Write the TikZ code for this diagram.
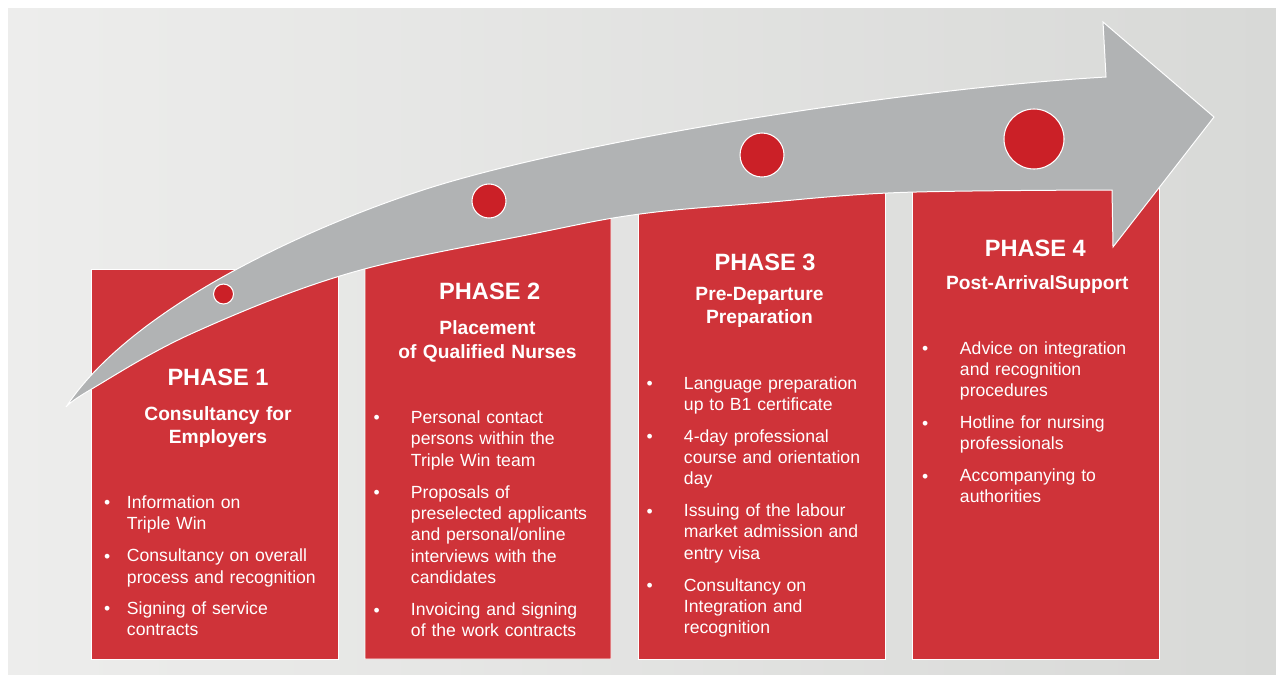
\documentclass[tikz,border=0pt]{standalone}
\usepackage{fontspec}
\setmainfont{Liberation Sans}
\definecolor{bgL}{RGB}{237,237,236}
\definecolor{bgR}{RGB}{216,217,215}
\definecolor{boxred}{RGB}{207,51,57}
\definecolor{dotred}{RGB}{203,32,39}
\definecolor{arrowgray}{RGB}{177,179,180}
\begin{document}
\begin{tikzpicture}[x=0.75pt,y=-0.75pt,
  box/.style={fill=boxred,draw=white,line width=0.6pt},
  ttl/.style={text=white,font=\fontsize{17.7}{21}\selectfont\bfseries,anchor=base,inner sep=0pt},
  sub/.style={text=white,font=\fontsize{14.4}{17.8}\selectfont\bfseries,anchor=base,inner sep=0pt,text width=180pt,align=center},
  item/.style={text=white,font=\fontsize{13.2}{16.1}\selectfont,anchor=base west,inner sep=0pt,text width=170pt,align=left},
  bul/.style={text=white,font=\fontsize{13.2}{16}\selectfont,anchor=base,inner sep=0pt},
  dot/.style={circle,fill=dotred,draw=white,line width=0.8pt,inner sep=0pt}]
\useasboundingbox (0,0) rectangle (1276,675);
\fill[white] (0,0) rectangle (1276,675);
\shade[left color=bgL,right color=bgR] (8,8) rectangle (1276,674);
% boxes
\path[box] (91,269) rectangle (338,659);
\path[box] (365,659) -- (365,240) -- (611,190) -- (611,659) -- cycle;
\path[box] (638,175) rectangle (885,659);
\path[box] (912,186) rectangle (1159,659);
% arrow
\filldraw[fill=arrowgray,draw=white,line width=0.75pt,line join=miter]
  (66,407) .. controls (130,310) and (300,230) .. (423,190)
  .. controls (573,141.4) and (900,89) .. (1106,77)
  -- (1103,22) -- (1214,117) -- (1113,247) -- (1112,190)
  -- plot[smooth,tension=0.6] coordinates {(1112,190) (900,192.5) (760,203) (640,214) (537,233) (350,273) (193,333) (90,390) (66,407)}
  -- cycle;
% dots
\node[dot,minimum size=15pt] (d1) at (223.5,294) {};
\node[dot,minimum size=25.5pt] (d2) at (489,201) {};
\node[dot,minimum size=33pt] (d3) at (762,155) {};
\node[dot,minimum size=45pt] (d4) at (1034,139) {};
% Phase 1
\node[ttl] (t1) at (218,385.7) {PHASE 1};
\node[sub] (s1) at (218,420) {Consultancy for\\Employers};
\node[bul] (b1a) at (107.3,508.8) {•};
\node[item] (i1a) at (126.7,508.3) {Information on\\Triple Win};
\node[bul] (b1b) at (107.3,562.2) {•};
\node[item] (i1b) at (126.7,561.7) {Consultancy on overall\\process and recognition};
\node[bul] (b1c) at (107.3,614.5) {•};
\node[item] (i1c) at (126.7,614) {Signing of service\\contracts};
% Phase 2
\node[ttl] (t2) at (489.7,299) {PHASE 2};
\node[sub] (s2) at (487.5,334.3) {Placement\\of Qualified Nurses};
\node[bul] (b2a) at (376.7,423.8) {•};
\node[item] (i2a) at (410.7,423.3) {Personal contact\\persons within the\\Triple Win team};
\node[bul] (b2b) at (376.7,498.5) {•};
\node[item] (i2b) at (410.7,498) {Proposals of\\preselected applicants\\and personal/online\\interviews with the\\candidates};
\node[bul] (b2c) at (376.7,616) {•};
\node[item] (i2c) at (410.7,615.5) {Invoicing and signing\\of the work contracts};
% Phase 3
\node[ttl] (t3) at (765,270) {PHASE 3};
\node[sub] (s3) at (759.5,300) {Pre-Departure\\Preparation};
\node[bul] (b3a) at (649.7,389.5) {•};
\node[item] (i3a) at (683.7,389) {Language preparation\\up to B1 certificate};
\node[bul] (b3b) at (649.7,442.5) {•};
\node[item] (i3b) at (683.7,442) {4-day professional\\course and orientation\\day};
\node[bul] (b3c) at (649.7,517) {•};
\node[item] (i3c) at (683.7,516.5) {Issuing of the labour\\market admission and\\entry visa};
\node[bul] (b3d) at (649.7,591.5) {•};
\node[item] (i3d) at (683.7,591) {Consultancy on\\Integration and\\recognition};
% Phase 4
\node[ttl] (t4) at (1035.3,256.7) {PHASE 4};
\node[sub] (s4) at (1037.3,289) {Post-ArrivalSupport};
\node[bul] (b4a) at (925.3,354.5) {•};
\node[item] (i4a) at (959.7,354) {Advice on integration\\and recognition\\procedures};
\node[bul] (b4b) at (925.3,429) {•};
\node[item] (i4b) at (959.7,428.5) {Hotline for nursing\\professionals};
\node[bul] (b4c) at (925.3,482) {•};
\node[item] (i4c) at (959.7,481.5) {Accompanying to\\authorities};
\end{tikzpicture}
\end{document}
